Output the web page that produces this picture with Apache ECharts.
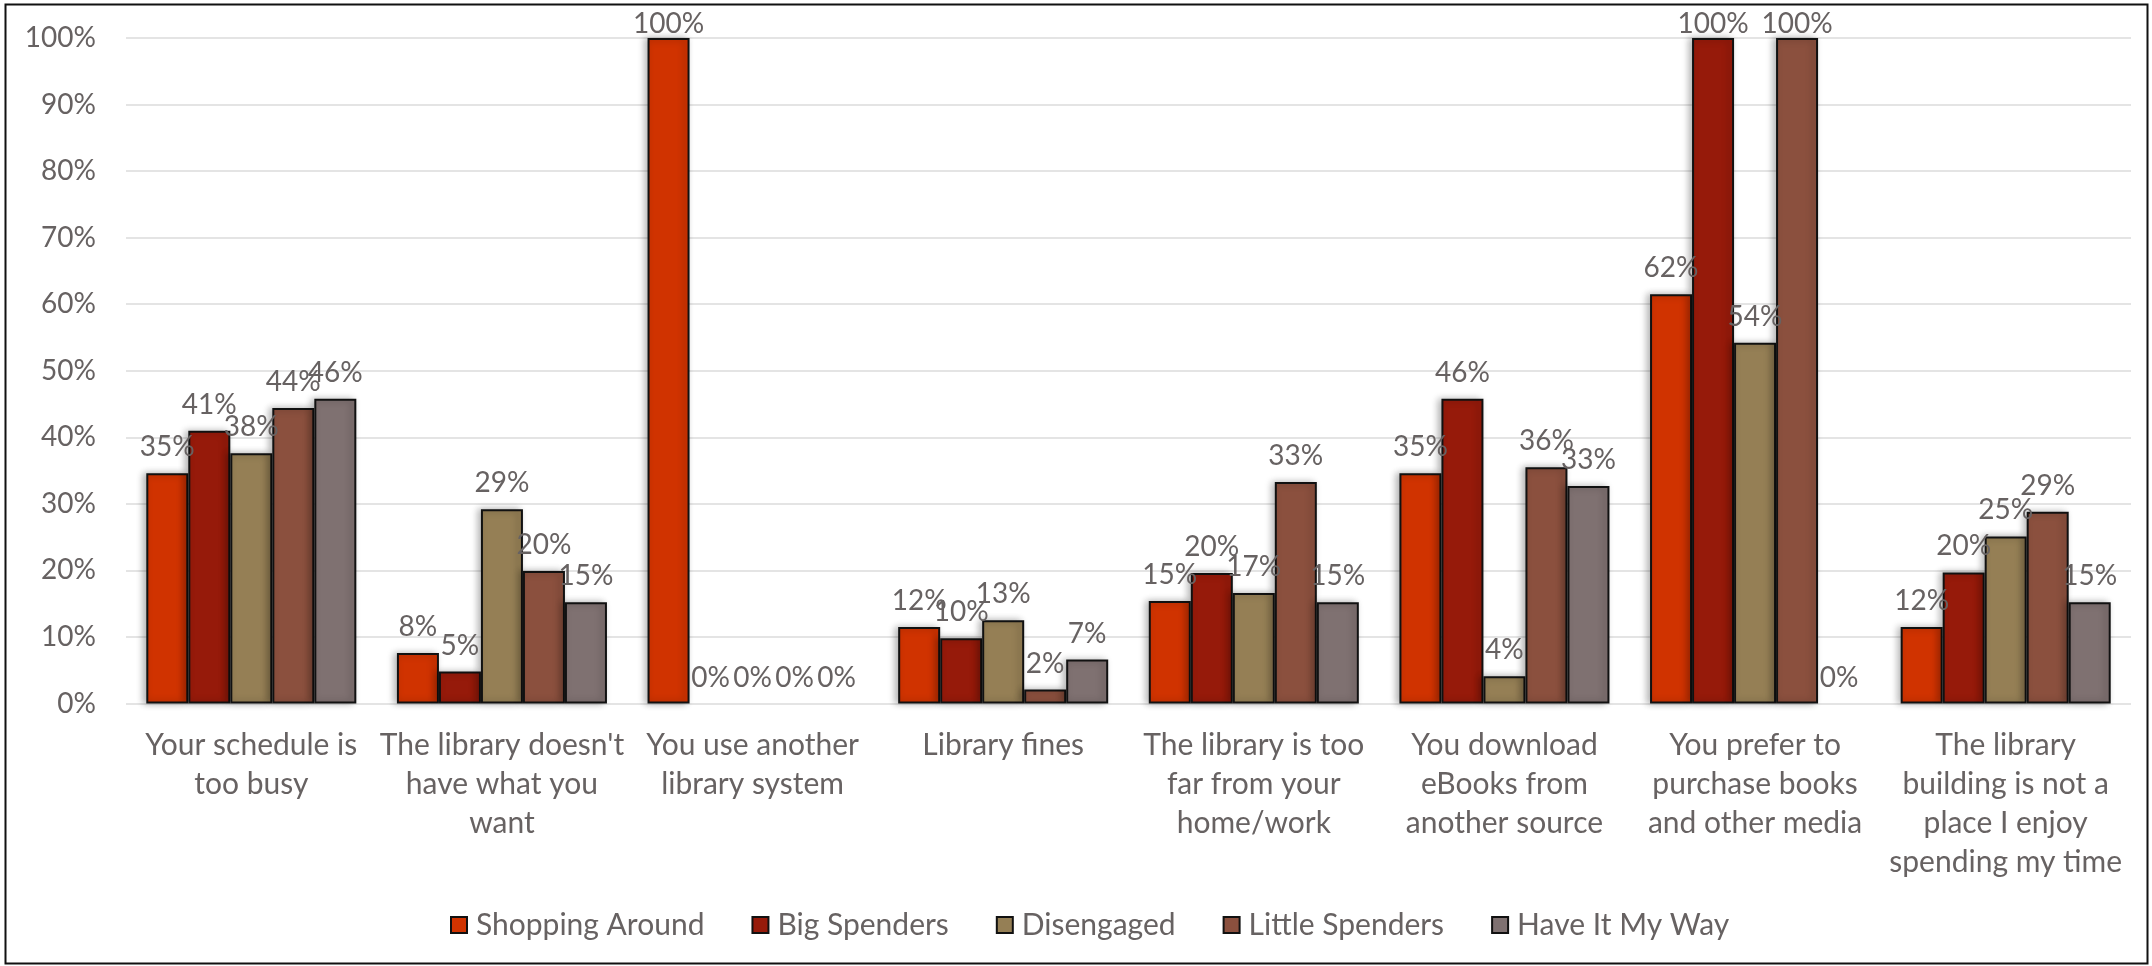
<!DOCTYPE html>
<html>
<head>
<meta charset="utf-8">
<script src="https://cdn.jsdelivr.net/npm/echarts@6/dist/echarts.min.js"></script>
<style>
  html, body { margin: 0; padding: 0; background: #fff; }
  #chart { width: 2152px; height: 966px; }
</style>
</head>
<body>
<div id="chart"></div>
<script>
// Reasons for not using the library, by customer segment (share of respondents, %)
const categories = [
  'Your schedule is\ntoo busy',
  "The library doesn't\nhave what you\nwant",
  'You use another\nlibrary system',
  'Library fines',
  'The library is too\nfar from your\nhome/work',
  'You download\neBooks from\nanother source',
  'You prefer to\npurchase books\nand other media',
  'The library\nbuilding is not a\nplace I enjoy\nspending my time'
];

const seriesNames = ['Shopping Around', 'Big Spenders', 'Disengaged', 'Little Spenders', 'Have It My Way'];
const seriesColors = ['#D03300', '#961A0A', '#957F55', '#8B503E', '#7F7171'];

const shoppingAround = [34.6, 7.6, 100, 11.5, 15.4, 34.6, 61.5, 11.5];
const bigSpenders    = [41.0, 4.8, 0, 9.8, 19.6, 45.8, 100, 19.7];
const disengaged     = [37.6, 29.2, 0, 12.5, 16.6, 4.1, 54.2, 25.1];
const littleSpenders = [44.4, 19.9, 0, 2.1, 33.3, 35.5, 100, 28.8];
const haveItMyWay    = [45.8, 15.2, 0, 6.6, 15.2, 32.7, 0, 15.2];

const yTicks = [0, 10, 20, 30, 40, 50, 60, 70, 80, 90, 100];

const seriesValues = [shoppingAround, bigSpenders, disengaged, littleSpenders, haveItMyWay];
const textColor = '#676262';
const fontFamily = 'Lato, "Open Sans", sans-serif';
const yMax = yTicks[yTicks.length - 1];

// Empty bars get no outline; labels of full-height bars stay inside the plot area
function toItems(values) {
  return values.map(v => {
    const item = { value: v };
    if (v === 0) item.itemStyle = { borderWidth: 0, shadowBlur: 0 };
    if (v >= yMax) item.label = { distance: 0 };
    return item;
  });
}

const chart = echarts.init(document.getElementById('chart'), null, { renderer: 'canvas' });

chart.setOption({
  animation: false,
  backgroundColor: '#ffffff',
  textStyle: { fontFamily: fontFamily },
  graphic: [{
    type: 'rect',
    shape: { x: 5.5, y: 4.5, width: 2142, height: 959 },
    style: { fill: 'none', stroke: '#111', lineWidth: 2 },
    silent: true,
    z: 100
  }],
  grid: { left: 126, right: 21, top: 38, bottom: 262.5, containLabel: false },
  legend: {
    data: seriesNames,
    left: 445,
    top: 905,
    itemWidth: 16,
    itemHeight: 16,
    itemGap: 47,
    icon: 'rect',
    textStyle: { color: textColor, fontSize: 30, fontFamily: fontFamily, padding: [0, 0, 0, 4] }
  },
  xAxis: {
    type: 'category',
    data: categories,
    axisLine: { show: false },
    axisTick: { show: false },
    axisLabel: {
      color: textColor,
      fontSize: 30,
      fontFamily: fontFamily,
      lineHeight: 39,
      margin: 22,
      interval: 0,
      align: 'center'
    }
  },
  yAxis: {
    type: 'value',
    min: yTicks[0],
    max: yMax,
    interval: 10,
    axisLine: { show: false },
    axisTick: { show: false },
    splitLine: { lineStyle: { color: '#e4e4e4', width: 2 } },
    axisLabel: {
      color: textColor,
      fontSize: 28,
      fontFamily: fontFamily,
      margin: 30,
      formatter: '{value}%'
    }
  },
  series: seriesNames.map((name, i) => ({
    name: name,
    type: 'bar',
    data: toItems(seriesValues[i]),
    barGap: '0%',
    barCategoryGap: '16.2%',
    itemStyle: {
      color: seriesColors[i],
      borderColor: '#111',
      borderWidth: 2,
      shadowBlur: 7,
      shadowOffsetX: -3,
      shadowOffsetY: 0,
      shadowColor: 'rgba(0,0,0,0.3)'
    },
    label: {
      show: true,
      position: 'top',
      distance: 12,
      color: textColor,
      fontSize: 28,
      fontFamily: fontFamily,
      formatter: p => Math.round(p.value) + '%'
    }
  }))
});
</script>
</body>
</html>
